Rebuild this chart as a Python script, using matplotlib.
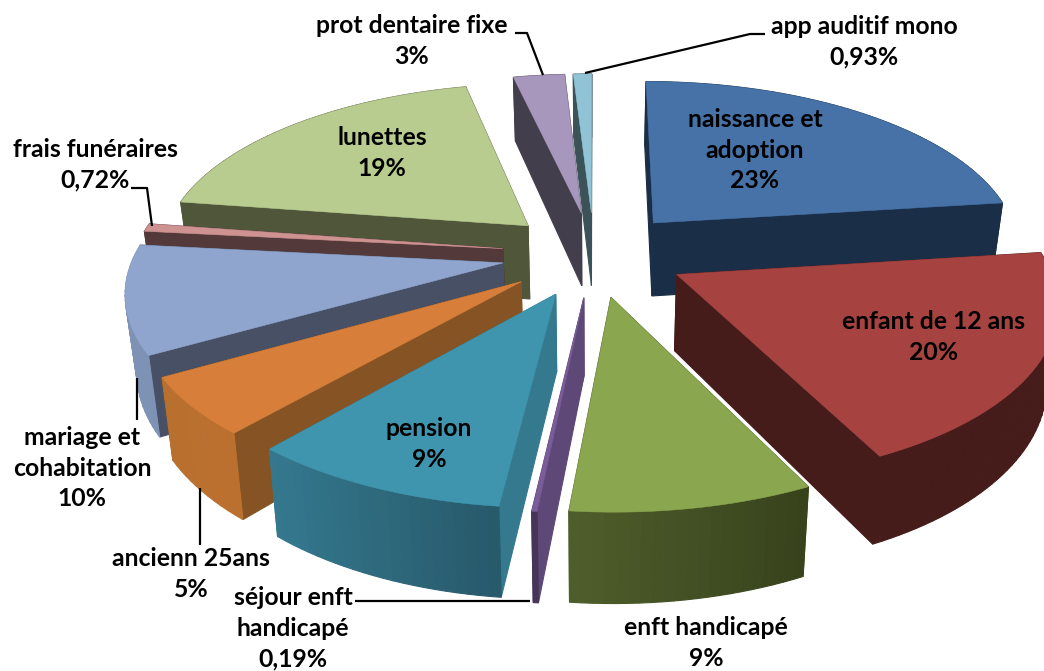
import numpy as np
import matplotlib
matplotlib.use("Agg")
import matplotlib.pyplot as plt
from matplotlib.colors import to_rgb
from matplotlib.patches import Polygon

# ---- data ----
categories = ["naissance et\nadoption", "enfant de 12 ans", "enft handicapé", "séjour enft\nhandicapé",
              "pension", "anciennn 25ans".replace("nnn", "nn"), "mariage et\ncohabitation", "frais funéraires",
              "lunettes", "prot dentaire fixe", "app auditif mono"]
values = [22.8, 19.6, 8.8, 0.19, 9.49, 5.3, 9.9, 0.72, 18.9, 2.6, 0.93]
pct_labels = ["23%", "20%", "9%", "0,19%", "9%", "5%", "10%", "0,72%", "19%", "3%", "0,93%"]

# ---- style ----
top_cols = ["#4672A8", "#A64341", "#8AA64E", "#7A5C99", "#3F95AE", "#D77F3A", "#8FA5CE", "#CE9291", "#B8CC8F", "#A797BC", "#90C3D5"]
wall_cols = ["#1A2F47", "#451C1A", "#4F5E2B", "#5E4878", "#35798E", "#865424", "#475064", "#53393A", "#4F563A", "#433E4C", "#3B5358"]
outer_l = ["#1A2F47", "#451C1A", "#4F5E2B", "#463558", "#35798F", "#B8702F", "#7D92B5", "#53393A", "#4F563A", "#433E4C", "#3B5358"]
outer_r = ["#1A2F47", "#451C1A", "#37421C", "#463558", "#27596A", "#BC7030", "#7D92B5", "#53393A", "#4F563A", "#433E4C", "#3B5358"]
label_xy = [(755, 150), (934, 337), (706, 643), (293, 628), (429, 444), (191, 574), (82, 468), (95, 165), (382, 153), (412, 41), (864, 42)]
leaders = [[(585, 73), (750, 34), (765, 34)], [(543, 75), (527, 33), (515, 33)], [(152, 226), (147, 188), (131, 188)],
           [(137, 378), (137, 420)], [(200, 488), (200, 545)], [(530, 601), (355, 601)]]

# ---- geometry of the projection (pixels) ----
CX, CY, RX, RY, PERSP, EXPL, DEPTH, SHRINK = 594, 254, 369, 170, 0.144, 0.25, 75, 0.975


def project(X, Y, z=0.0):
    X, Y = np.asarray(X, float), np.asarray(Y, float)
    s = 1 / (1 - PERSP * Y)
    k = 1 - (1 - SHRINK) * z
    return np.column_stack([CX + RX * X * s * k, CY + RY * Y * s + DEPTH * z * s])


def quad(xs, ys):
    return np.vstack([project(xs, ys, 0), project(xs, ys, 1)[::-1]])


fig = plt.figure(figsize=(10.44, 6.71), dpi=100)
ax = fig.add_axes([0, 0, 1, 1])
ax.set_xlim(0, 1044)
ax.set_ylim(671, 0)
ax.axis("off")

fracs = np.array(values) / np.sum(values)
edges = np.concatenate([[0], np.cumsum(fracs)]) * 2 * np.pi
slices = []
for i in range(len(values)):
    a0, a1 = edges[i], edges[i + 1]
    m = (a0 + a1) / 2
    tx, ty = EXPL * np.sin(m), -EXPL * np.cos(m)
    th = np.linspace(a0, a1, max(3, int((a1 - a0) * 40)))
    slices.append((i, tx, ty, tx + np.sin(th), ty - np.cos(th)))

# slices back to front; inside each, walls back to front, then the top
for i, tx, ty, ox, oy in sorted(slices, key=lambda s: np.r_[s[2], s[4]].mean()):
    local = []
    for k in (0, -1):
        xs, ys = np.array([tx, ox[k]]), np.array([ty, oy[k]])
        local.append((ys.mean(), quad(xs, ys), wall_cols[i]))
    for j in range(len(ox) - 1):
        xs, ys = ox[j:j + 2], oy[j:j + 2]
        t = np.clip((xs.mean() - ox.min()) / max(np.ptp(ox), 1e-6), 0, 1)
        col = np.array(to_rgb(outer_l[i])) * (1 - t) + np.array(to_rgb(outer_r[i])) * t
        local.append((ys.mean() + 0.02, quad(xs, ys), col))
    for _, poly, col in sorted(local, key=lambda f: f[0]):
        ax.add_patch(Polygon(poly, closed=True, facecolor=col, edgecolor=col, lw=0.8))
    top = project(np.r_[tx, ox], np.r_[ty, oy], 0)
    ax.add_patch(Polygon(top, closed=True, facecolor=top_cols[i], edgecolor=top_cols[i], lw=0.4))

for pts in leaders:
    p = np.array(pts)
    ax.plot(p[:, 0], p[:, 1], color="black", lw=1.6, solid_capstyle="butt")

for name, pct, (x, y) in zip(categories, pct_labels, label_xy):
    ax.text(x, y, f"{name}\n{pct}", ha="center", va="center", family="Lato", weight="bold",
            fontsize=17.8, linespacing=1.41, color="black")

fig.savefig("out.png", dpi=100)
